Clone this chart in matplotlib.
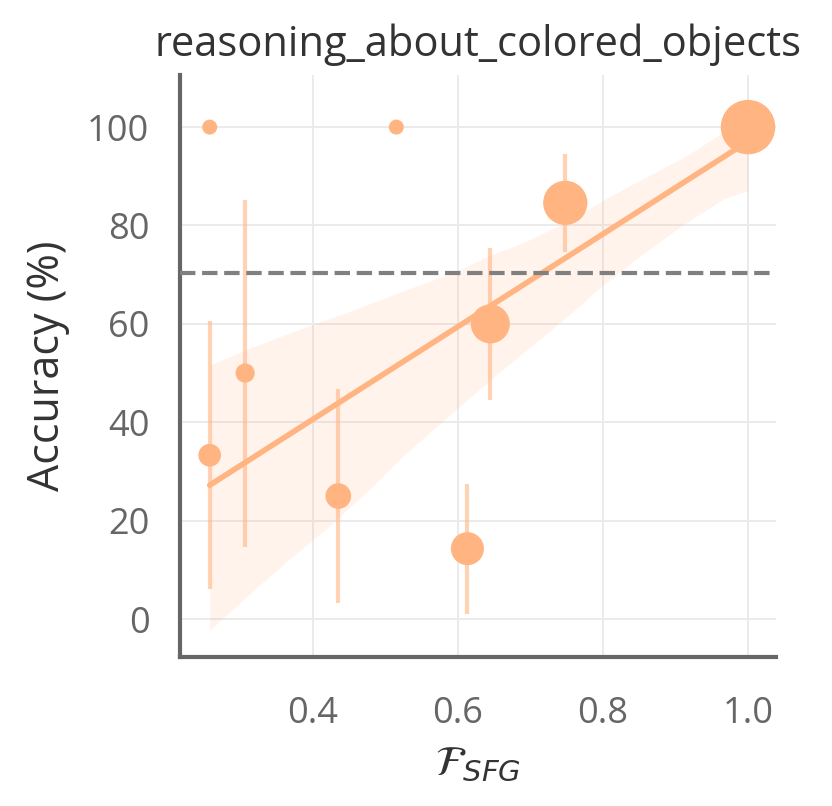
import numpy as np
import matplotlib
matplotlib.use("Agg")
import matplotlib.pyplot as plt

# ---- data ----
f_sfg = [0.2576, 0.515, 0.2576, 0.3065, 0.435, 0.613, 0.6446, 0.748, 1.0]
accuracy = [100, 100, 33.3, 50, 25, 14.3, 60, 84.6, 100]
n_samples = [1, 1, 3, 2, 4, 7, 10, 13, 20]
err_lo = [100, 100, 6.1, 14.6, 3.3, 1.0, 44.5, 74.6, 100]
err_hi = [100, 100, 60.5, 85.2, 46.7, 27.4, 75.4, 94.6, 100]

# regression line + CI band (seaborn style)
fit_x = [0.2576, 1.0]
fit_y = [27.2, 97.1]
band_up_x = [0.2576, 0.3141, 0.3685, 0.4554, 0.5315, 0.5967, 0.6402, 0.6946,
             0.7489, 0.8033, 0.8576, 0.912, 0.9663, 1.0]
band_up_y = [51.6, 55.1, 58.2, 62.8, 67.1, 70.6, 73.7, 76.8,
             80.7, 85.4, 89.7, 93.9, 99.0, 101.5]
band_lo_x = [0.2576, 0.3141, 0.3685, 0.4228, 0.4772, 0.5315, 0.5859, 0.6402,
             0.6946, 0.7489, 0.8033, 0.8576, 0.912, 0.9663, 1.0]
band_lo_y = [-2.3, 5.3, 12.3, 18.9, 26.3, 34.1, 41.1, 48.1,
             54.7, 61.3, 68.3, 74.5, 80.3, 85.4, 87.1]

baseline = 70.3

title = "reasoning_about_colored_objects"
color = "#ffb482"

plt.rcParams["font.family"] = ["Open Sans", "DejaVu Sans"]

fig = plt.figure(figsize=(4.16, 4.03), dpi=200)
ax = fig.add_axes([0.2163, 0.185, 0.7164, 0.722])

# CI band
grid_x = np.linspace(f_sfg[0], 1.0, 200)
up = np.interp(grid_x, band_up_x, band_up_y)
lo = np.interp(grid_x, band_lo_x, band_lo_y)
ax.fill_between(grid_x, lo, up, color=color, alpha=0.15, lw=0, zorder=1)

# error bars
for xi, lo_i, hi_i in zip(f_sfg, err_lo, err_hi):
    if hi_i > lo_i:
        ax.plot([xi, xi], [lo_i, hi_i], color=color, alpha=0.6, lw=1.5,
                solid_capstyle="butt", zorder=2)

# fit line
ax.plot(fit_x, fit_y, color=color, lw=2.0, solid_capstyle="round", zorder=3)

# points, area proportional to sample count
sizes = [10.4 + 18.7 * n for n in n_samples]
ax.scatter(f_sfg, accuracy, s=sizes, color=color, edgecolors="none", zorder=4)

ax.axhline(baseline, color="#808080", lw=1.5, ls="--", zorder=5)

ax.set_xlim(0.2166, 1.0386)
ax.set_ylim(-7.7, 110.6)
ax.set_xticks([0.4, 0.6, 0.8, 1.0])
ax.set_yticks([0, 20, 40, 60, 80, 100])
ax.grid(True, color="#ebebeb", lw=0.7)
ax.set_axisbelow(True)

for s in ["top", "right"]:
    ax.spines[s].set_visible(False)
for s in ["left", "bottom"]:
    ax.spines[s].set_color("#666666")
    ax.spines[s].set_linewidth(1.5)

ax.tick_params(length=0, labelsize=13, labelcolor="#666666")
ax.tick_params(axis="x", pad=14)
ax.tick_params(axis="y", pad=11)
ax.set_title(title, fontsize=15, color="#333333", pad=7)
ax.set_ylabel("Accuracy (%)", fontsize=15.5, color="#333333", labelpad=6)
ax.set_xlabel(r"$\mathcal{F}_{SFG}$", fontsize=15, color="#333333", labelpad=4)

fig.savefig("out.png", dpi=200)
